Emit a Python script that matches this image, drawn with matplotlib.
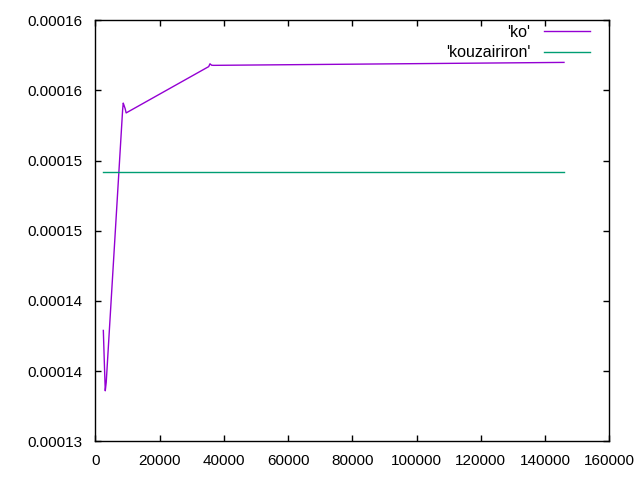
import matplotlib
matplotlib.use("Agg")
import matplotlib.pyplot as plt

# data
ko_x = [2500, 2800, 3100, 3400, 8500, 8700, 9000, 9300, 9600,
        35300, 35700, 36200, 36800, 145900]
ko_y = [0.0001379, 0.0001357, 0.0001336, 0.0001342, 0.0001536, 0.0001541,
        0.0001539, 0.0001537, 0.0001534, 0.0001567, 0.0001569, 0.0001568,
        0.00015679, 0.0001570]
kz_x = [2500, 145900]
kz_y = [0.00014916, 0.00014916]

yticks = [0.00013, 0.000135, 0.00014, 0.000145, 0.00015, 0.000155, 0.00016]
ytick_labels = ["0.00013", "0.00014", "0.00014", "0.00015", "0.00015", "0.00016", "0.00016"]
xticks = [0, 20000, 40000, 60000, 80000, 100000, 120000, 140000, 160000]

plt.rcParams['font.family'] = ['Liberation Sans', 'DejaVu Sans']
plt.rcParams['font.size'] = 11

fig = plt.figure(figsize=(6.4, 4.8), dpi=100)
ax = fig.add_axes([95.3 / 640, 1 - 441.3 / 480, (609.3 - 95.3) / 640, (441.3 - 20.3) / 480])

ax.plot(ko_x, ko_y, color='#9400d3', lw=1.0, label="'ko'")
ax.plot(kz_x, kz_y, color='#009e73', lw=1.0, label="'kouzairiron'")

ax.set_xlim(0, 160000)
ax.set_ylim(0.00013, 0.00016)
ax.set_xticks(xticks)
ax.set_xticklabels([str(v) for v in xticks])
ax.set_yticks(yticks)
ax.set_yticklabels(ytick_labels)

for s in ax.spines.values():
    s.set_linewidth(1.0)
ax.tick_params(direction='in', length=4.5, width=1.0, top=True, right=True,
               colors='black')
ax.tick_params(axis='y', pad=9)
ax.tick_params(axis='x', pad=9)

ax.legend(loc='upper right', bbox_to_anchor=(0.9625, 0.99), frameon=False,
          markerfirst=False, handlelength=2.9, handletextpad=0.85,
          labelspacing=0.35, borderaxespad=0, borderpad=0,
          fontsize=11.5)

fig.savefig('out.png', dpi=100)
